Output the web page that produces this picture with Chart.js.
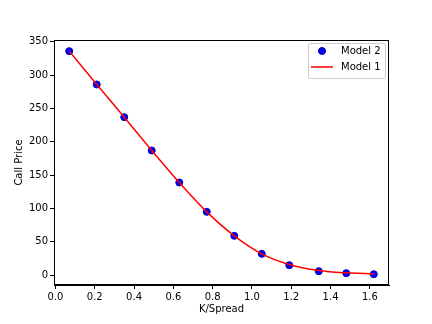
<!DOCTYPE html>
<html>
<head>
<meta charset="utf-8">
<script src="https://cdn.jsdelivr.net/npm/chart.js@4.4.1/dist/chart.umd.min.js"></script>
<style>
  html, body { margin: 0; padding: 0; background: #fff; }
  #wrap { width: 432px; height: 324px; }
</style>
</head>
<body>
<div id="wrap"><canvas id="chart" width="432" height="324"></canvas></div>
<script>
// K/Spread sample points
const kSpread = [0.07, 0.21, 0.35, 0.49, 0.63, 0.77, 0.91, 1.05, 1.19, 1.34, 1.48, 1.62];
// Model 2 (dots) and Model 1 (line) call prices
const model2 = [336, 286, 237, 187, 139, 95, 59, 32, 15, 6, 3, 1.5];
const model1 = [336, 286, 237, 187, 139, 95, 59, 32, 16, 7, 3.5, 2];
const xTicks = [0.0, 0.2, 0.4, 0.6, 0.8, 1.0, 1.2, 1.4, 1.6];
const yTicks = [0, 50, 100, 150, 200, 250, 300, 350];

const FONT = 'DejaVu Sans';

const toPoints = (xs, ys) => xs.map((x, i) => ({ x: x, y: ys[i] }));

// frame around the plot + matplotlib style legend
const framePlugin = {
    id: 'frame',
    afterDatasetsDraw(chart) {
        const { ctx, chartArea: a } = chart;
        ctx.save();
        ctx.strokeStyle = '#000';
        ctx.lineWidth = 1;
        ctx.strokeRect(Math.round(a.left) + 0.5, Math.round(a.top) + 0.5,
            Math.round(a.right - a.left) - 1, Math.round(a.bottom - a.top) - 1);

        // legend box
        const bx = 308, by = 43, bw = 77, bh = 35;
        ctx.fillStyle = 'rgba(255,255,255,0.8)';
        ctx.strokeStyle = '#cccccc';
        ctx.beginPath();
        ctx.roundRect(bx + 0.5, by + 0.5, bw, bh, 2);
        ctx.fill();
        ctx.stroke();

        ctx.fillStyle = '#0000ff';
        ctx.strokeStyle = '#0000aa';
        ctx.beginPath();
        ctx.arc(322, 51, 3.5, 0, Math.PI * 2);
        ctx.fill();
        ctx.stroke();

        ctx.strokeStyle = '#ff0000';
        ctx.lineWidth = 1.5;
        ctx.beginPath();
        ctx.moveTo(311, 67);
        ctx.lineTo(333, 67);
        ctx.stroke();

        ctx.fillStyle = '#000';
        ctx.font = '10px "' + FONT + '"';
        ctx.textBaseline = 'middle';
        ctx.fillText('Model 2', 341, 51);
        ctx.fillText('Model 1', 341, 67);
        ctx.restore();
    }
};

const axisCommon = {
    grid: { display: true, drawOnChartArea: false, drawTicks: true, tickLength: 4, color: '#000' },
    border: { display: true, color: '#000' },
    ticks: { color: '#000', font: { family: FONT, size: 10 }, padding: 2 }
};

new Chart(document.getElementById('chart'), {
    type: 'scatter',
    data: {
        datasets: [{
            label: 'Model 1',
            data: toPoints(kSpread, model1),
            showLine: true,
            borderColor: '#ff0000',
            borderWidth: 1.5,
            pointRadius: 0,
            cubicInterpolationMode: 'monotone',
            fill: false
        }, {
            label: 'Model 2',
            data: toPoints(kSpread, model2),
            backgroundColor: '#0000ff',
            borderColor: '#0000aa',
            borderWidth: 1,
            pointRadius: 3.5
        }]
    },
    options: {
        responsive: false,
        animation: false,
        devicePixelRatio: 1,
        layout: { padding: { left: 0, top: 40, right: 43, bottom: 0 } },
        plugins: {
            legend: { display: false },
            tooltip: { enabled: false }
        },
        scales: {
            x: {
                ...axisCommon,
                type: 'linear',
                min: -0.0075,
                max: 1.6975,
                afterBuildTicks: (s) => { s.ticks = xTicks.map(v => ({ value: v })); },
                afterFit: (s) => { s.height = 39; },
                ticks: { ...axisCommon.ticks, callback: (v) => Number(v).toFixed(1) },
                title: { display: true, text: 'K/Spread', color: '#000', font: { family: FONT, size: 10 }, padding: { top: 0, bottom: 9 } }
            },
            y: {
                ...axisCommon,
                type: 'linear',
                min: -14.7,
                max: 352.7,
                afterBuildTicks: (s) => { s.ticks = yTicks.map(v => ({ value: v })); },
                afterFit: (s) => { s.width = 54; },
                ticks: { ...axisCommon.ticks, callback: (v) => String(v) },
                title: { display: true, text: 'Call Price', color: '#000', font: { family: FONT, size: 10 }, padding: { top: 13, bottom: 0 } }
            }
        }
    },
    plugins: [framePlugin]
});
</script>
</body>
</html>
